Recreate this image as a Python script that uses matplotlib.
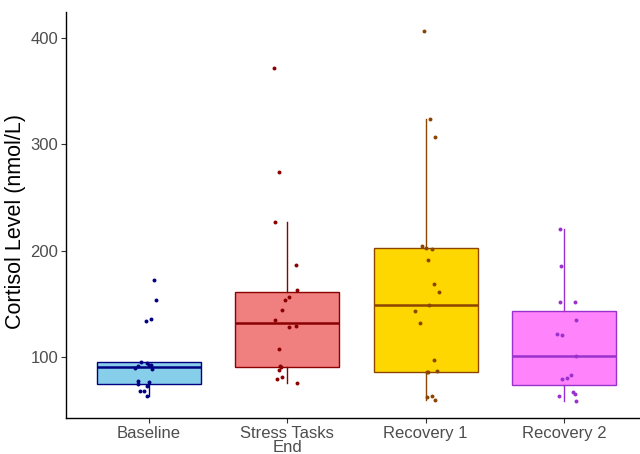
import matplotlib.pyplot as plt

plt.rcParams['font.family'] = ['Liberation Sans', 'DejaVu Sans']

groups = ['Baseline', 'Stress Tasks\nEnd', 'Recovery 1', 'Recovery 2']

baseline = [172.3, 153.2, 134.0, 135.4, 95.5, 94.3, 92.9, 91.7, 89.6, 92.0,
            88.3, 77.3, 74.5, 76.4, 72.3, 68.2, 68.2, 63.2]
stress = [371.5, 274.2, 227.2, 186.5, 162.6, 156.4, 153.5, 144.4, 134.4,
          128.4, 129.4, 107.4, 91.4, 90.2, 87.4, 81.4, 79.2, 75.7]
recovery1 = [406.6, 323.5, 306.6, 204.3, 201.5, 202.8, 191.4, 168.6, 161.3,
             148.8, 143.5, 131.6, 97.4, 85.8, 85.9, 86.4, 62.3, 63.5, 59.5]
recovery2 = [220.3, 185.5, 151.4, 151.4, 134.4, 121.5, 120.3, 101.1, 83.3,
             80.4, 79.2, 67.3, 65.1, 63.2, 58.2]

# jitter offsets
jit_baseline = [0.035, 0.047, -0.025, 0.013, -0.057, -0.016, 0.0, -0.076, -0.1,
                0.016, 0.025, -0.083, -0.083, 0.0, -0.011, -0.067, -0.035, -0.011]
jit_stress = [-0.094, -0.06, -0.092, 0.065, 0.067, 0.01, -0.02, -0.041, -0.087,
              0.01, 0.065, -0.06, -0.05, -0.048, -0.063, -0.036, -0.075, 0.072]
jit_recovery1 = [-0.01, 0.029, 0.065, -0.027, 0.046, 0.0, 0.017, 0.063, 0.097,
                 0.022, -0.077, -0.041, 0.058, 0.012, 0.017, 0.082, 0.012, 0.043, 0.065]
jit_recovery2 = [-0.031, -0.022, -0.027, 0.08, 0.087, -0.053, -0.012, 0.085, 0.053,
                 0.024, -0.017, 0.065, 0.077, -0.034, 0.087]

fills = ['#87CEEB', '#F08080', '#FFD700', '#FF83FA']
edges = ['#000080', '#8B0000', '#8B4500', '#9932CC']

data = [baseline, stress, recovery1, recovery2]
jitters = [jit_baseline, jit_stress, jit_recovery1, jit_recovery2]

fig = plt.figure(figsize=(6.4, 4.54), dpi=100)
ax = fig.add_axes([66 / 640, 36 / 454, 581 / 640, 406 / 454])

for i, (vals, fc, ec) in enumerate(zip(data, fills, edges)):
    pos = i + 1
    ax.boxplot(vals, positions=[pos], widths=0.75, patch_artist=True,
               showfliers=False, showcaps=False,
               boxprops=dict(facecolor=fc, edgecolor=ec, linewidth=1.0),
               medianprops=dict(color=ec, linewidth=1.8),
               whiskerprops=dict(color=ec, linewidth=1.0))
    xs = [pos + j for j in jitters[i]]
    ax.scatter(xs, vals, s=8, color=ec, zorder=3, linewidths=0)

ax.set_xlim(0.4, 4.6)
ax.set_ylim(42.6, 424.4)
ax.set_xticks([1, 2, 3, 4])
ax.set_xticklabels(groups, fontsize=12, color='#4D4D4D', linespacing=0.95)
ax.set_yticks([100, 200, 300, 400])
ax.set_yticklabels(['100', '200', '300', '400'], fontsize=12, color='#4D4D4D')
ax.tick_params(axis='both', length=3.5, color='#333333', width=0.8, pad=2)
ax.set_ylabel('Cortisol Level (nmol/L)', fontsize=15.5, labelpad=2)
ax.yaxis.set_label_coords(-0.068, 0.485)
for side in ['top', 'right']:
    ax.spines[side].set_visible(False)
for side in ['left', 'bottom']:
    ax.spines[side].set_linewidth(1.0)

fig.savefig('out.png', dpi=100)
